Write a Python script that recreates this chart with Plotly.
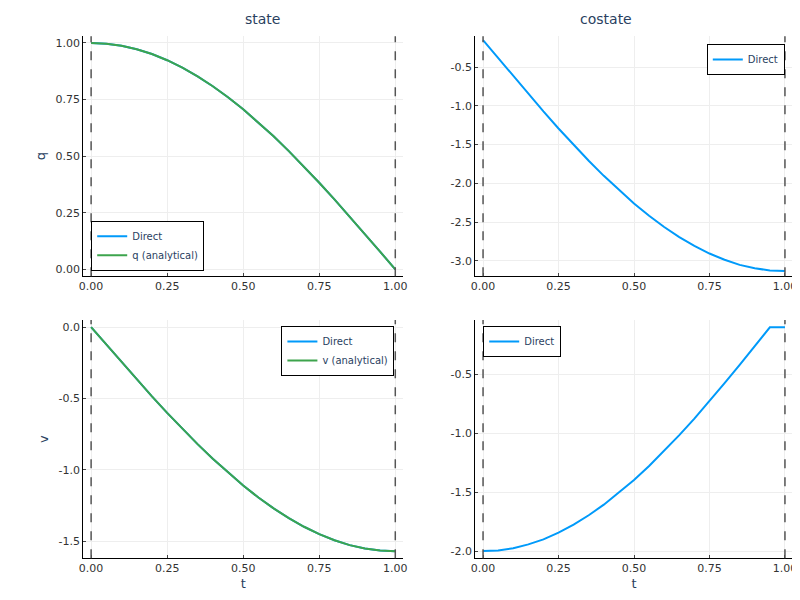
import plotly.graph_objects as go

t = [0.0, 0.05, 0.1, 0.15, 0.2, 0.25, 0.3, 0.35, 0.4, 0.45, 0.5,
     0.55, 0.6, 0.65, 0.7, 0.75, 0.8, 0.85, 0.9, 0.95, 1.0]
q_direct = [1.0, 0.9969, 0.9877, 0.9724, 0.9511, 0.9239, 0.8910, 0.8526, 0.8090, 0.7604, 0.7071,
            0.6494, 0.5878, 0.5225, 0.4540, 0.3827, 0.3090, 0.2334, 0.1564, 0.0785, 0.0]
q_exact = q_direct
v_direct = [0.0, -0.1229, -0.2454, -0.3664, -0.4854, -0.6011, -0.7132, -0.8204, -0.9233, -1.0198, -1.1107,
            -1.1947, -1.2708, -1.3395, -1.3995, -1.4512, -1.4939, -1.5282, -1.5514, -1.5661, -1.5708]
v_exact = v_direct
p1 = [-0.15, -0.384, -0.616, -0.846, -1.072, -1.292, -1.505, -1.709, -1.904, -2.088, -2.260,
      -2.420, -2.565, -2.695, -2.809, -2.907, -2.988, -3.054, -3.098, -3.126, -3.134]
p2 = [-2.0, -1.994, -1.975, -1.943, -1.900, -1.843, -1.775, -1.696, -1.606, -1.505, -1.397,
      -1.278, -1.151, -1.016, -0.876, -0.728, -0.576, -0.420, -0.262, -0.102, -0.102]

BLUE = "#009AFA"
GREEN = "#3DA44D"
fig = go.Figure()

xd = [[0.094, 0.494], [0.584, 0.981]]
yd = [[0.553, 0.953], [0.083, 0.48]]
yranges = [[-0.03, 1.03], [-3.2, -0.1], [-1.62, 0.05], [-2.06, -0.04]]
yticks = [[0, 0.25, 0.5, 0.75, 1.0], [-3.0, -2.5, -2.0, -1.5, -1.0, -0.5],
          [-1.5, -1.0, -0.5, 0.0], [-2.0, -1.5, -1.0, -0.5]]
ytext = [["0.00", "0.25", "0.50", "0.75", "1.00"], ["-3.0", "-2.5", "-2.0", "-1.5", "-1.0", "-0.5"],
         ["-1.5", "-1.0", "-0.5", "0.0"], ["-2.0", "-1.5", "-1.0", "-0.5"]]
ytitles = ["q", "", "v", ""]
xtitles = ["", "", "t", "t"]

series = [
    [("Direct", q_direct, BLUE), ("q (analytical)", q_exact, GREEN)],
    [("Direct", p1, BLUE)],
    [("Direct", v_direct, BLUE), ("v (analytical)", v_exact, GREEN)],
    [("Direct", p2, BLUE)],
]
legpos = [(0.104, 0.562, "left", "bottom"), (0.971, 0.94, "right", "top"),
          (0.483, 0.47, "right", "top"), (0.594, 0.47, "left", "top")]

font = dict(family="DejaVu Sans", size=11, color="#333")
for i in range(4):
    r, c = divmod(i, 2)
    n = "" if i == 0 else str(i + 1)
    leg = "legend" + n
    for name, y, col in series[i]:
        fig.add_trace(go.Scatter(x=t, y=y, mode="lines", name=name, line=dict(color=col, width=2),
                                 xaxis="x" + n, yaxis="y" + n, legend=leg))
    for xv in [0, 1]:
        fig.add_shape(type="line", x0=xv, x1=xv, y0=0, y1=1, xref="x" + n, yref="y" + n + " domain",
                      line=dict(color="#555", width=1.5, dash="dash"))
    fig.update_layout(**{
        "xaxis" + n: dict(domain=xd[c], range=[-0.026, 1.026], anchor="y" + n, automargin=False,
                          tickvals=[0, 0.25, 0.5, 0.75, 1.0], ticktext=["0.00", "0.25", "0.50", "0.75", "1.00"],
                          showline=True, linecolor="black", gridcolor="#eeeeee", zeroline=False,
                          ticks="inside", ticklen=3,
                          title=dict(text=xtitles[i], font=dict(size=13), standoff=4),
                          tickfont=font),
        "yaxis" + n: dict(domain=yd[r], range=yranges[i], anchor="x" + n, automargin=False,
                          tickvals=yticks[i], ticktext=ytext[i],
                          showline=True, linecolor="black", gridcolor="#eeeeee", zeroline=False,
                          ticks="inside", ticklen=3,
                          title=dict(text=ytitles[i], font=dict(size=13), standoff=6),
                          tickfont=font),
        leg: dict(x=legpos[i][0], y=legpos[i][1], xanchor=legpos[i][2], yanchor=legpos[i][3],
                  bordercolor="black", borderwidth=1, bgcolor="white",
                  font=dict(family="DejaVu Sans", size=10), tracegroupgap=0, itemwidth=30),
    })

fig.add_annotation(text="state", x=0.294, y=0.965, xref="paper", yref="paper", showarrow=False,
                   yanchor="bottom", font=dict(family="DejaVu Sans", size=14))
fig.add_annotation(text="costate", x=0.7825, y=0.965, xref="paper", yref="paper", showarrow=False,
                   yanchor="bottom", font=dict(family="DejaVu Sans", size=14))

fig.update_layout(width=800, height=600, margin=dict(l=0, r=0, t=0, b=0),
                  plot_bgcolor="white", paper_bgcolor="white", font=dict(family="DejaVu Sans"))
fig.write_html("out.html")
